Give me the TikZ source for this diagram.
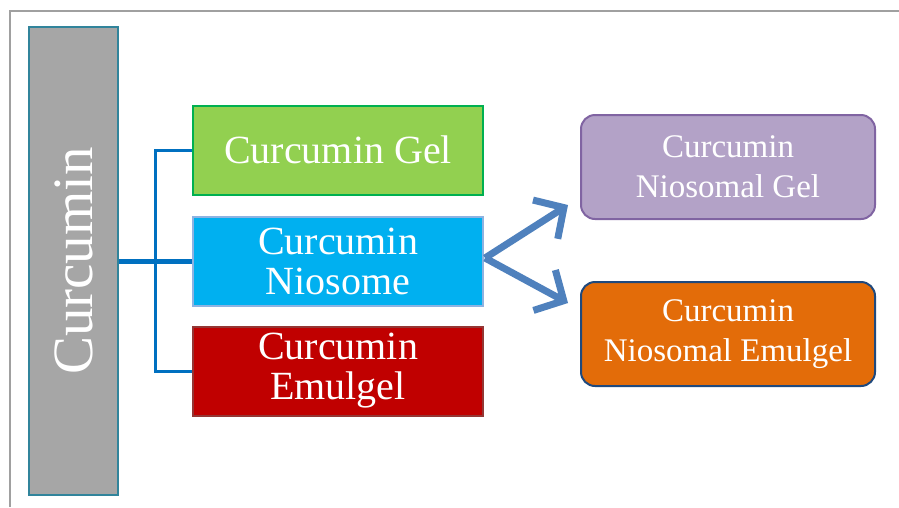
\documentclass[tikz,border=0pt]{standalone}
\usepackage{fontspec}
\setmainfont{Liberation Serif}
\usetikzlibrary{arrows.meta}
\definecolor{barfill}{HTML}{A6A6A6}
\definecolor{barline}{HTML}{31849B}
\definecolor{gfill}{HTML}{92D050}
\definecolor{gline}{HTML}{00B050}
\definecolor{bfill}{HTML}{00B0F0}
\definecolor{bline}{HTML}{8DB3E2}
\definecolor{rfill}{HTML}{C00000}
\definecolor{rline}{HTML}{943634}
\definecolor{pfill}{HTML}{B3A2C7}
\definecolor{pline}{HTML}{8064A2}
\definecolor{ofill}{HTML}{E36C09}
\definecolor{oline}{HTML}{1F497D}
\definecolor{conn}{HTML}{0070C0}
\definecolor{arr}{HTML}{4F81BD}
\definecolor{frame}{HTML}{A0A0A0}
\tikzset{
  sqbox/.style={draw, line width=2pt, minimum width=290pt, minimum height=89pt, inner sep=0pt,
    text=white, align=center, font=\fontsize{40}{40}\selectfont},
  rbox/.style={draw, line width=2pt, rounded corners=14pt, minimum width=294pt, minimum height=104pt,
    inner sep=0pt, text=white, align=center, font=\fontsize{33}{40}\selectfont},
  conline/.style={conn, line width=3pt},
  bigarrow/.style={arr, line width=7pt, -{Straight Barb[length=22pt, width=46pt, line width=7pt]}}
}
\begin{document}
\begin{tikzpicture}[x=1pt, y=-1pt]
\useasboundingbox (0,0) rectangle (899,507);
\fill[white] (0,0) rectangle (899,507);
\draw[frame, line width=1.5pt] (10,507) -- (10,11) -- (899,11);
\node[draw=barline, fill=barfill, line width=2.5pt, minimum width=468pt, minimum height=89pt, inner sep=0pt,
  text=white, font=\fontsize{57}{57}\selectfont, rotate=90] (cur) at (73.5,261) {Curcumin};
\node[sqbox, fill=gfill, draw=gline] (gel) at (338,150) {Curcumin Gel};
\node[sqbox, fill=bfill, draw=bline] (nio) at (338,261) {Curcumin\\Niosome};
\node[sqbox, fill=rfill, draw=rline] (emu) at (338,371) {Curcumin\\Emulgel};
\node[rbox, fill=pfill, draw=pline] (ngel) at (728,167) {Curcumin\\Niosomal Gel};
\node[rbox, fill=ofill, draw=oline] (nemu) at (728,334) {Curcumin\\Niosomal Emulgel};
\coordinate (j) at (155,261);
\draw[conn, line width=5pt] (cur.south) -- (nio.west);
\draw[conline] (gel.west) -- (155,150) -- (155,371) -- (emu.west);
\coordinate (src) at (485,258);
\draw[bigarrow] (src) -- (568,205);
\draw[bigarrow] (src) -- (568,303);
\end{tikzpicture}
\end{document}
